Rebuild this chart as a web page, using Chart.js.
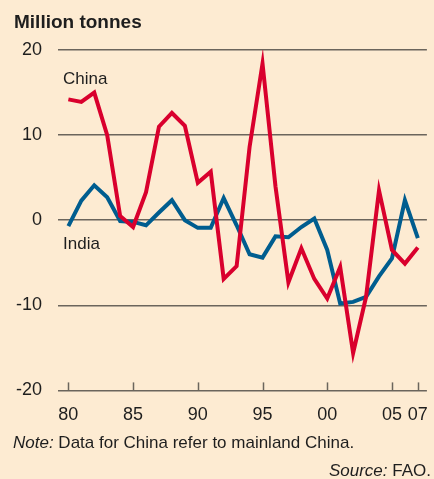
<!DOCTYPE html>
<html>
<head>
<meta charset="utf-8">
<script src="https://cdn.jsdelivr.net/npm/chart.js@4"></script>
<style>
    html, body { margin: 0; padding: 0; background: #fdebd2; }
    body { width: 434px; height: 479px; position: relative; overflow: hidden;
           font-family: "Liberation Sans", Arial, sans-serif; color: #1e1e1e; }
    #wrap { position: absolute; left: 0; top: 0; width: 434px; height: 479px; }
    .t { position: absolute; white-space: nowrap; }
    #title { left: 14px; top: 11px; font-size: 19px; font-weight: bold; }
    #note { left: 13px; top: 433px; font-size: 17px; }
    #src { right: 3px; top: 461px; font-size: 17px; }
</style>
</head>
<body>
<div id="wrap"><canvas id="c"></canvas></div>
<div class="t" id="title">Million tonnes</div>
<div class="t" id="note"><i>Note:</i> Data for China refer to mainland China.</div>
<div class="t" id="src"><i>Source:</i> FAO.</div>
<script>
const years = [1980, 1981, 1982, 1983, 1984, 1985, 1986, 1987, 1988, 1989,
               1990, 1991, 1992, 1993, 1994, 1995, 1996, 1997, 1998, 1999,
               2000, 2001, 2002, 2003, 2004, 2005, 2006, 2007];
const china = [14.2, 13.9, 15.0, 10.0, 0.5, -0.8, 3.3, 11.0, 12.6, 11.1,
               4.4, 5.7, -6.9, -5.4, 8.6, 18.4, 4.0, -7.3, -3.3, -6.9,
               -9.2, -5.5, -15.6, -9.0, 3.5, -3.5, -5.1, -3.2];
const india = [-0.7, 2.3, 4.1, 2.7, -0.1, -0.2, -0.6, 0.9, 2.35, 0.0,
               -0.9, -0.9, 2.6, -0.6, -4.0, -4.4, -1.9, -2.0, -0.8, 0.2,
               -3.5, -9.8, -9.6, -9.0, -6.6, -4.5, 2.35, -2.1];
const xTicks = [1980, 1985, 1990, 1995, 2000, 2005, 2007];
const yTicks = [-20, -10, 0, 10, 20];

const RED = '#d9002d';
const BLUE = '#005d8f';
const GRID = '#6b655c';

// small upward ticks on the x baseline + series labels
const extras = {
    id: 'extras',
    afterDraw(ch) {
        const x = ch.scales.x, y = ch.scales.y;
        const c = ch.ctx;
        const base = y.getPixelForValue(-20);
        c.save();
        c.strokeStyle = GRID;
        c.lineWidth = 1.5;
        xTicks.forEach(v => {
            const px = Math.round(x.getPixelForValue(v)) + 0.5;
            c.beginPath();
            c.moveTo(px, base);
            c.lineTo(px, base - 8);
            c.stroke();
        });
        c.fillStyle = '#1e1e1e';
        c.font = '17px "Liberation Sans", Arial, sans-serif';
        c.textBaseline = 'middle';
        c.fillText('China', 63, y.getPixelForValue(16.6));
        c.fillText('India', 63, y.getPixelForValue(-2.8));
        c.restore();
    }
};

new Chart(document.getElementById('c'), {
    type: 'line',
    data: {
        labels: years,
        datasets: [
            { label: 'China', data: years.map((yr, i) => ({ x: yr, y: china[i] })),
              borderColor: RED, borderWidth: 4, pointRadius: 0, tension: 0, fill: false },
            { label: 'India', data: years.map((yr, i) => ({ x: yr, y: india[i] })),
              borderColor: BLUE, borderWidth: 4, pointRadius: 0, tension: 0, fill: false }
        ]
    },
    options: {
        responsive: true,
        maintainAspectRatio: false,
        animation: false,
        layout: { padding: { top: 50, right: 6, bottom: 47, left: 0 } },
        plugins: { legend: { display: false }, tooltip: { enabled: false } },
        scales: {
            x: {
                type: 'linear',
                min: 1979.2,
                max: 2007.7,
                afterBuildTicks: s => { s.ticks = xTicks.map(v => ({ value: v })); },
                grid: { display: false },
                border: { display: false },
                ticks: {
                    color: '#1e1e1e',
                    font: { size: 18, family: '"Liberation Sans", Arial, sans-serif' },
                    padding: 6,
                    maxRotation: 0,
                    autoSkip: false,
                    callback: v => String(v).slice(2)
                }
            },
            y: {
                min: -20,
                max: 20,
                afterBuildTicks: s => { s.ticks = yTicks.map(v => ({ value: v })); },
                grid: { color: GRID, lineWidth: 1.5, drawTicks: false },
                border: { display: false },
                ticks: {
                    color: '#1e1e1e',
                    font: { size: 18, family: '"Liberation Sans", Arial, sans-serif' },
                    padding: 16
                }
            }
        }
    },
    plugins: [extras]
});
</script>
</body>
</html>
